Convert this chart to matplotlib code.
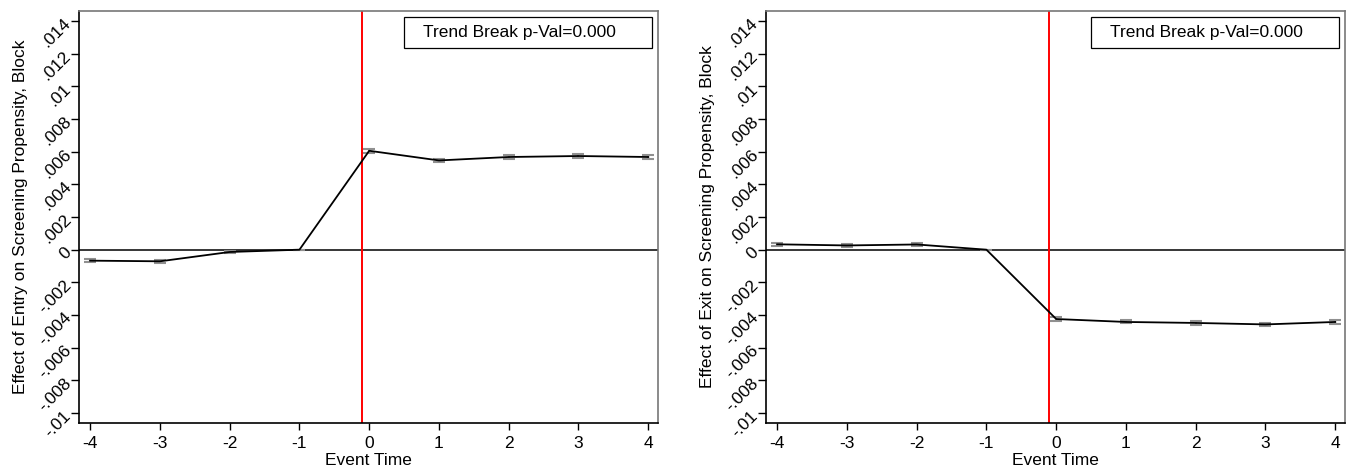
import matplotlib
matplotlib.use("Agg")
import matplotlib.pyplot as plt
import matplotlib.patches as mpatches
import numpy as np

plt.rcParams['font.family'] = ['Liberation Sans', 'DejaVu Sans']

event_time = [-4, -3, -2, -1, 0, 1, 2, 3, 4]
entry_coef = [-0.00067, -0.00071, -0.00014, 0.0, 0.00605, 0.00546, 0.00567, 0.00573, 0.00567]
entry_err = [0.00011, 0.00010, 0.00009, 0.0, 0.00013, 0.00010, 0.00010, 0.00010, 0.00011]
exit_coef = [0.00033, 0.00026, 0.00032, 0.0, -0.00424, -0.00442, -0.00448, -0.00457, -0.00442]
exit_err = [0.00011, 0.00010, 0.00009, 0.0, 0.00010, 0.00009, 0.00010, 0.00010, 0.00012]
y_ticks = [-0.01, -0.008, -0.006, -0.004, -0.002, 0, 0.002, 0.004, 0.006, 0.008, 0.01, 0.012, 0.014]
y_labels = ['-.01', '-.008', '-.006', '-.004', '-.002', '0', '.002', '.004', '.006', '.008', '.01', '.012', '.014']
x_ticks = [-4, -3, -2, -1, 0, 1, 2, 3, 4]
break_x = -0.1
box_text = 'Trend Break p-Val=0.000'
ylabels = ['Effect of Entry on Screening Propensity, Block',
           'Effect of Exit on Screening Propensity, Block']

FS = 12.5
fig = plt.figure(figsize=(13.55, 4.73), dpi=100)
ax1 = fig.add_axes([79/1355, 50/473, 579/1355, 412/473])
ax2 = fig.add_axes([766/1355, 50/473, 579/1355, 412/473])

for ax, coef, err, ylab in [(ax1, entry_coef, entry_err, ylabels[0]),
                            (ax2, exit_coef, exit_err, ylabels[1])]:
    ax.axhline(0, color='black', lw=1.1, zorder=1)
    ax.axvline(break_x, color='red', lw=1.4, zorder=2)
    ax.errorbar(event_time, coef, yerr=err, fmt='none', ecolor='#909090',
                elinewidth=1.5, capsize=4.5, capthick=1.5, zorder=3)
    ax.plot(event_time, coef, color='black', lw=1.3, zorder=4)
    ax.set_xlim(-4.16, 4.14)
    ax.set_ylim(-0.0106, 0.0146)
    ax.set_yticks(y_ticks)
    ax.set_yticklabels(y_labels, rotation=45, ha='right', va='center',
                       rotation_mode='anchor', fontsize=FS)
    ax.set_xticks(x_ticks)
    ax.set_xticklabels([str(v) for v in x_ticks], fontsize=FS)
    ax.tick_params(axis='x', direction='out', length=5, width=1, color='black', pad=4)
    ax.tick_params(axis='y', direction='out', length=6, width=1, color='black', pad=1.5)
    ax.set_xlabel('Event Time', fontsize=FS, labelpad=2)
    ax.set_ylabel(ylab, fontsize=FS, labelpad=5)
    ax.spines['top'].set_color('#777777')
    ax.spines['right'].set_color('#777777')
    ax.spines['left'].set_color('black')
    ax.spines['bottom'].set_color('black')
    for s in ax.spines.values():
        s.set_linewidth(1.2)
    rect = mpatches.Rectangle((0.561, 0.910), 0.429, 0.0754, transform=ax.transAxes,
                              fc='white', ec='black', lw=0.9, zorder=5)
    ax.add_patch(rect)
    ax.text(0.594, 0.948, box_text, transform=ax.transAxes, fontsize=FS,
            ha='left', va='center', zorder=6)

fig.savefig('out.png', dpi=100)
